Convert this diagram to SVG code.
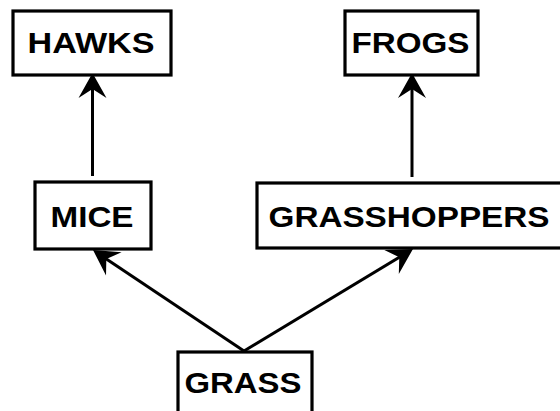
<svg xmlns="http://www.w3.org/2000/svg" width="560" height="411" viewBox="0 0 560 411">
<style>
.box{fill:#fff;stroke:#000;stroke-width:3.2}
.lbl{font-family:"Liberation Sans",Arial,sans-serif;font-weight:bold;font-size:30px;fill:#000;text-anchor:middle}
.edge{stroke:#000;stroke-width:3;fill:none;marker-end:url(#ah)}
</style>
<defs>
<marker id="ah" markerUnits="userSpaceOnUse" viewBox="-27 -15 28 30" refX="-12" refY="0" markerWidth="28" markerHeight="30" orient="auto">
<path d="M0,0 L-25,-14 L-16,0 L-25,14 Z" fill="#000"/>
</marker>
</defs>
<rect width="560" height="411" fill="#fff"/>
<g id="connectors">
<line class="edge" x1="92.5" y1="176" x2="92.5" y2="85"/>
<line class="edge" x1="412" y1="177" x2="412" y2="85"/>
<line class="edge" x1="244" y1="351" x2="103" y2="256.7"/>
<line class="edge" x1="244" y1="351" x2="402.7" y2="255.2"/>
</g>
<g id="hawks"><rect class="box" x="13" y="11" width="158" height="64"/><text class="lbl" x="91" y="53" textLength="127" lengthAdjust="spacingAndGlyphs">HAWKS</text></g>
<g id="frogs"><rect class="box" x="345" y="11" width="133" height="64"/><text class="lbl" x="410.5" y="53" textLength="118" lengthAdjust="spacingAndGlyphs">FROGS</text></g>
<g id="mice"><rect class="box" x="35" y="182" width="116" height="67"/><text class="lbl" x="92" y="227" textLength="83" lengthAdjust="spacingAndGlyphs">MICE</text></g>
<g id="grasshoppers"><rect class="box" x="257" y="183" width="310" height="65"/><text class="lbl" x="409" y="227" textLength="281" lengthAdjust="spacingAndGlyphs">GRASSHOPPERS</text></g>
<g id="grass"><rect class="box" x="178" y="352" width="134" height="80"/><text class="lbl" x="243" y="393" textLength="117" lengthAdjust="spacingAndGlyphs">GRASS</text></g>
</svg>
